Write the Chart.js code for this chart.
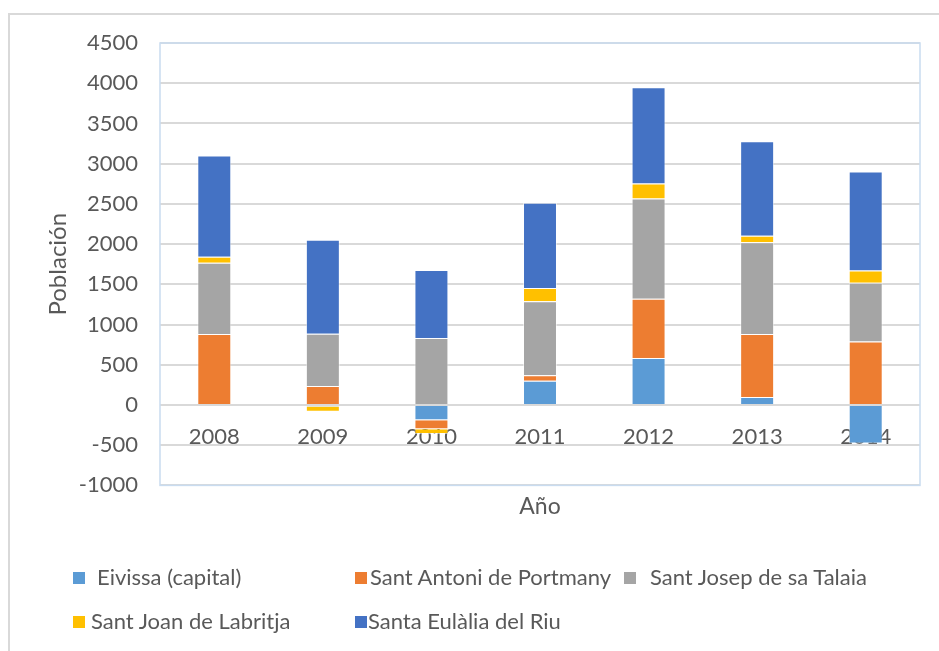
<!DOCTYPE html>
<html>
<head>
<meta charset="utf-8">
<script src="https://cdn.jsdelivr.net/npm/chart.js@4"></script>
<style>
  html, body { margin: 0; padding: 0; background: #fff; }
  #wrap { position: relative; width: 939px; height: 651px; overflow: hidden; }
  #frame { position: absolute; left: 8px; top: 13px; width: 940px; height: 650px; border: 2px solid #d9d9d9; box-sizing: border-box; }
  #chart { position: absolute; left: 0; top: 0; }
  .leg { position: absolute; font-family: Lato, sans-serif; font-size: 22px; color: #595959; white-space: nowrap; line-height: 24px; }
  .leg span.box { display: inline-block; width: 12px; height: 12px; vertical-align: middle; margin-top: -3px; }
</style>
</head>
<body>
<div id="wrap">
  <div id="frame"></div>
  <canvas id="chart" width="939" height="651"></canvas>
  <div id="legend"></div>
</div>
<script>
// years on the x axis
const years = ["2008", "2009", "2010", "2011", "2012", "2013", "2014"];

// population change per municipality
const eivissa = [0, -20, -190, 300, 585, 100, -480];
const santAntoni = [881, 237, -112, 70, 735, 782, 790];
const santJosep = [886, 648, 833, 918, 1247, 1142, 728];
const santJoan = [75, -65, -60, 167, 187, 80, 153];
const santaEulalia = [1260, 1170, 845, 1060, 1197, 1176, 1231];

const seriesNames = ["Eivissa (capital)", "Sant Antoni de Portmany", "Sant Josep de sa Talaia", "Sant Joan de Labritja", "Santa Eulàlia del Riu"];
const seriesColors = ["#5B9BD5", "#ED7D31", "#A5A5A5", "#FFC000", "#4472C4"];
const seriesData = [eivissa, santAntoni, santJosep, santJoan, santaEulalia];

const yMin = -1000, yMax = 4500, yStep = 500;

const font = "Lato";
const textColor = "#595959";

// light blue frame around the plot area
const plotFrame = {
    id: 'plotFrame',
    afterDraw(chart) {
        const a = chart.chartArea, ctx = chart.ctx;
        ctx.save();
        ctx.strokeStyle = "#c9dcf0";
        ctx.lineWidth = 1.5;
        ctx.strokeRect(a.left, a.top, a.right - a.left, a.bottom - a.top);
        ctx.restore();
    }
};

new Chart(document.getElementById("chart"), {
    type: 'bar',
    data: {
        labels: years,
        datasets: seriesNames.map((name, i) => ({
            label: name,
            data: seriesData[i],
            backgroundColor: seriesColors[i],
            borderColor: "rgba(255,255,255,0.5)",
            borderWidth: 1,
            categoryPercentage: 1,
            barPercentage: 0.313
        }))
    },
    plugins: [plotFrame],
    options: {
        responsive: false,
        animation: false,
        layout: { padding: { left: 0, top: 43, right: 19, bottom: 131 } },
        plugins: {
            legend: { display: false },
            tooltip: { enabled: false },
            title: {
                display: true,
                text: 'Año',
                position: 'bottom',
                fullSize: false,
                weight: 500,
                color: textColor,
                font: { family: font, size: 23, weight: 'normal' },
                padding: { top: 7, bottom: 0 }
            }
        },
        scales: {
            x: {
                stacked: true,
                position: { y: 0 },
                grid: { display: false, drawTicks: false },
                border: { display: false },
                ticks: { color: textColor, font: { family: font, size: 22 }, padding: 19 }
            },
            y: {
                stacked: true,
                min: yMin,
                max: yMax,
                afterFit: (s) => { s.width = 160; },
                grid: { color: "#d9d9d9", lineWidth: 2, drawTicks: false },
                border: { display: false },
                ticks: {
                    stepSize: yStep, color: textColor, font: { family: font, size: 22 }, padding: 22,
                    callback: (v) => String(v)
                },
                title: {
                    display: true,
                    text: 'Población',
                    color: textColor,
                    font: { family: font, size: 24 },
                    padding: { top: 44, bottom: 0 }
                }
            }
        }
    }
});

// legend laid out in Excel-like columns
const legendPos = [[73, 577], [355, 577], [624, 577], [73, 621], [355, 621]];
const gaps = [12, 3, 14, 6, 1];
const legend = document.getElementById("legend");
seriesNames.forEach((name, i) => {
    const d = document.createElement("div");
    d.className = "leg";
    d.style.left = legendPos[i][0] + "px";
    d.style.top = (legendPos[i][1] - 12) + "px";
    d.innerHTML = '<span class="box" style="background:' + seriesColors[i] + ';margin-right:' + gaps[i] + 'px"></span>' + name;
    legend.appendChild(d);
});
</script>
</body>
</html>
